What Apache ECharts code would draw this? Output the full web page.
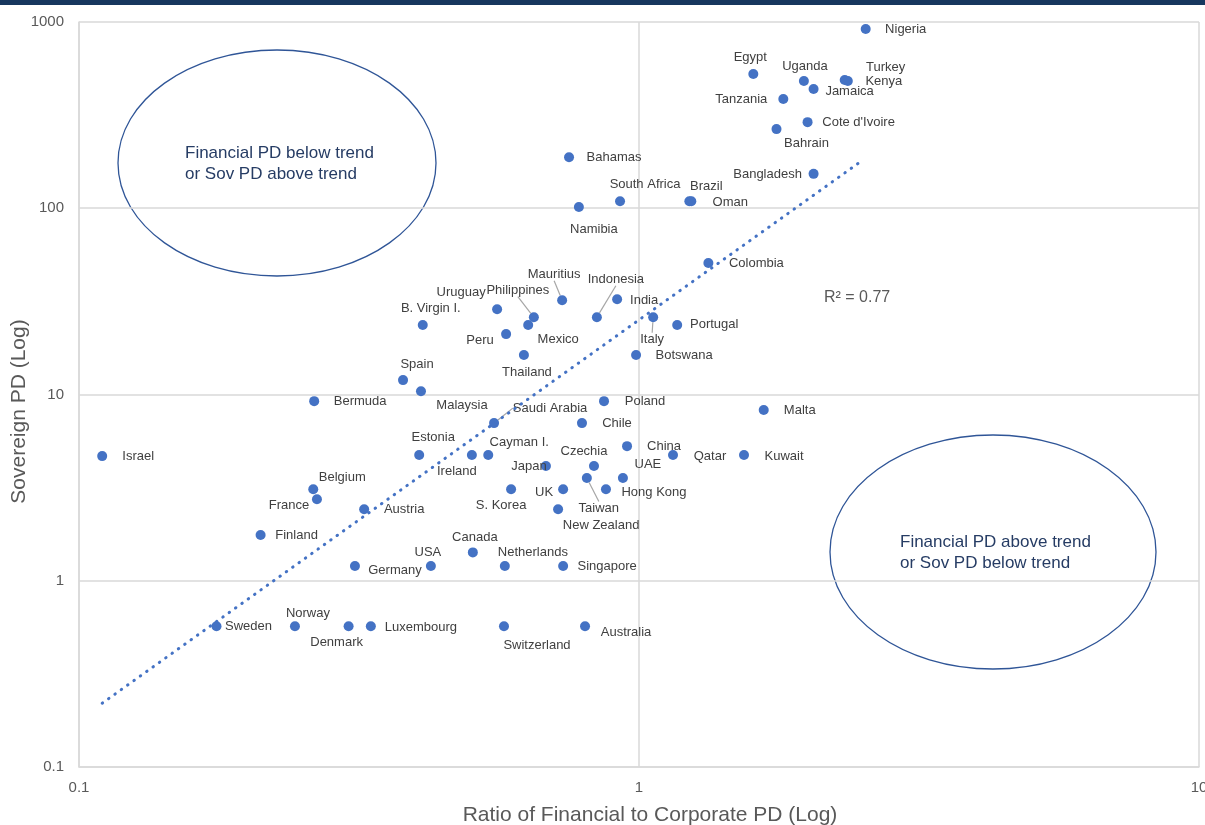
<!DOCTYPE html>
<html>
<head>
<meta charset="utf-8">
<script src="https://cdn.jsdelivr.net/npm/echarts@6/dist/echarts.min.js"></script>
<style>
  html, body { margin: 0; padding: 0; background: #fff; }
  #chart { width: 1205px; height: 825px; }
</style>
</head>
<body>
<div id="chart"></div>
<script>
// countries, ratio of financial to corporate PD (x) and sovereign PD (y)
var countries = ['Nigeria', 'Egypt', 'Uganda', 'Turkey', 'Kenya', 'Jamaica', 'Tanzania', "Cote d'Ivoire", 'Bahrain',
    'Bahamas', 'Bangladesh', 'South Africa', 'Brazil', 'Oman', 'Namibia', 'Colombia', 'Mauritius', 'India',
    'Indonesia', 'Uruguay', 'Philippines', 'B. Virgin I.', 'Mexico', 'Peru', 'Italy', 'Portugal', 'Thailand',
    'Botswana', 'Spain', 'Malaysia', 'Bermuda', 'Poland', 'Malta', 'Saudi Arabia', 'Chile', 'China', 'Israel',
    'Estonia', 'Ireland', 'Cayman I.', 'Qatar', 'Kuwait', 'Japan', 'Czechia', 'UAE', 'Taiwan', 'Belgium',
    'S. Korea', 'UK', 'Hong Kong', 'France', 'Austria', 'New Zealand', 'Finland', 'Canada', 'Germany', 'USA',
    'Netherlands', 'Singapore', 'Sweden', 'Norway', 'Denmark', 'Luxembourg', 'Switzerland', 'Australia'];
var finRatio = [2.54, 1.60, 1.97, 2.33, 2.36, 2.05, 1.81, 2.00, 1.76,
    0.750, 2.05, 0.925, 1.23, 1.24, 0.781, 1.33, 0.729, 0.914,
    0.841, 0.558, 0.649, 0.411, 0.634, 0.579, 1.06, 1.17, 0.623,
    0.988, 0.379, 0.408, 0.263, 0.866, 1.67, 0.551, 0.791, 0.952, 0.110,
    0.405, 0.503, 0.538, 1.15, 1.54, 0.682, 0.831, 0.936, 0.807, 0.262,
    0.591, 0.732, 0.873, 0.266, 0.323, 0.717, 0.211, 0.505, 0.311, 0.425,
    0.576, 0.732, 0.176, 0.243, 0.303, 0.332, 0.574, 0.801];
var sovPD = [917, 526, 482, 488, 482, 437, 386, 290, 266,
    188, 153, 109, 109, 109, 101.5, 50.8, 32.1, 32.5,
    26.0, 28.7, 26.0, 23.6, 23.6, 21.1, 26.0, 23.6, 16.3,
    16.3, 11.95, 10.4, 9.21, 9.21, 8.25, 7.02, 7.02, 5.28, 4.67,
    4.73, 4.73, 4.73, 4.73, 4.73, 4.13, 4.13, 3.56, 3.56, 3.10,
    3.10, 3.10, 3.10, 2.74, 2.42, 2.42, 1.76, 1.42, 1.20, 1.20,
    1.20, 1.20, 0.570, 0.570, 0.570, 0.570, 0.570, 0.570];
// power trendline end points
var trendX = [0.110, 2.51];
var trendY = [0.220, 181.5];
var xTicks = [0.1, 1, 10];
var yTicks = [0.1, 1, 10, 100, 1000];

// label placement (offset of label centre from point, px)
var labelOffset = {
    'Nigeria': [40, 0], 'Egypt': [-3, -17], 'Uganda': [1, -15], 'Turkey': [41, -13], 'Kenya': [36, 0],
    'Jamaica': [36, 2], 'Tanzania': [-42, 0], "Cote d'Ivoire": [51, 0], 'Bahrain': [30, 14],
    'Bahamas': [45, 0], 'Bangladesh': [-46, 1], 'South Africa': [25, -17], 'Brazil': [17, -15],
    'Oman': [39, 1], 'Namibia': [15, 22], 'Colombia': [48, 0], 'Mauritius': [-8, -26], 'India': [27, 1],
    'Indonesia': [19, -38], 'Uruguay': [-36, -17], 'Philippines': [-16, -27], 'B. Virgin I.': [8, -17],
    'Mexico': [30, 14], 'Peru': [-26, 6], 'Italy': [-1, 22], 'Portugal': [37, -1], 'Thailand': [3, 17],
    'Botswana': [48, 0], 'Spain': [14, -16], 'Malaysia': [41, 14], 'Bermuda': [46, 0], 'Poland': [41, 0],
    'Malta': [36, 0], 'Saudi Arabia': [56, -15], 'Chile': [35, 0], 'China': [37, 0], 'Israel': [36, 0],
    'Estonia': [14, -18], 'Ireland': [-15, 16], 'Cayman I.': [31, -13], 'Qatar': [37, 1], 'Kuwait': [40, 1],
    'Japan': [-17, 0], 'Czechia': [-10, -15], 'UAE': [25, -14], 'Taiwan': [12, 30], 'Belgium': [29, -12],
    'S. Korea': [-10, 16], 'UK': [-19, 3], 'Hong Kong': [48, 3], 'France': [-28, 6], 'Austria': [40, 0],
    'New Zealand': [43, 16], 'Finland': [36, 0], 'Canada': [2, -15], 'Germany': [40, 4], 'USA': [-3, -14],
    'Netherlands': [28, -14], 'Singapore': [44, 0], 'Sweden': [32, 0], 'Norway': [13, -13],
    'Denmark': [-12, 16], 'Luxembourg': [50, 1], 'Switzerland': [33, 19], 'Australia': [41, 6]
};
var withLeader = ['Mauritius', 'Indonesia', 'Philippines', 'Italy', 'Saudi Arabia', 'Taiwan'];

var pointData = [];
for (var i = 0; i < countries.length; i++) {
    var item = { name: countries[i], value: [finRatio[i], sovPD[i]] };
    if (withLeader.indexOf(countries[i]) >= 0) {
        item.labelLine = { show: true, lineStyle: { color: '#a6a6a6', width: 1.2 } };
    }
    pointData.push(item);
}
var trendData = [];
for (i = 0; i < trendX.length; i++) {
    trendData.push([trendX[i], trendY[i]]);
}

var font = 'Liberation Sans, Arial, sans-serif';
var gridColor = '#d9d9d9';
var myChart = echarts.init(document.getElementById('chart'));

option = {
    animation: false,
    backgroundColor: '#fff',
    grid: { left: 79, right: 6, top: 22, bottom: 58, containLabel: false, outerBoundsMode: 'none' },
    xAxis: {
        type: 'log', logBase: 10, min: 0.1, max: 10,
        name: 'Ratio of Financial to Corporate PD (Log)',
        nameLocation: 'middle', nameGap: 38, nameMoveOverlap: false,
        nameTextStyle: { fontFamily: font, fontSize: 21, color: '#595959', padding: [0, 0, 0, 22] },
        axisLine: { show: true, lineStyle: { color: gridColor, width: 1.5 } },
        axisTick: { show: false },
        axisLabel: {
            fontFamily: font, fontSize: 15, color: '#595959', margin: 13,
            formatter: function (v) { return xTicks.indexOf(v) >= 0 ? String(v) : ''; }
        },
        splitLine: { show: true, lineStyle: { color: gridColor, width: 1.5 } }
    },
    yAxis: {
        type: 'log', logBase: 10, min: 0.1, max: 1000,
        name: 'Sovereign PD (Log)',
        nameLocation: 'middle', nameGap: 49, nameMoveOverlap: false,
        nameTextStyle: { fontFamily: font, fontSize: 21, color: '#595959', padding: [0, 34, 0, 0] },
        axisLine: { show: true, lineStyle: { color: gridColor, width: 1.5 } },
        axisTick: { show: false },
        axisLabel: {
            fontFamily: font, fontSize: 15, color: '#595959', margin: 15,
            formatter: function (v) { return yTicks.indexOf(v) >= 0 ? String(v) : ''; }
        },
        splitLine: { show: true, lineStyle: { color: gridColor, width: 1.5 } }
    },
    graphic: [
        { type: 'rect', shape: { x: 0, y: 0, width: 1205, height: 5 }, style: { fill: '#17375e' } },
        { type: 'ellipse', shape: { cx: 277, cy: 163, rx: 159, ry: 113 },
          style: { fill: 'none', stroke: '#2f5597', lineWidth: 1.3 } },
        { type: 'text', left: 185, top: 143,
          style: { text: 'Financial PD below trend\nor Sov PD above trend', fill: '#263c64',
                   font: '17px ' + font, lineHeight: 21 } },
        { type: 'ellipse', shape: { cx: 993, cy: 552, rx: 163, ry: 117 },
          style: { fill: 'none', stroke: '#2f5597', lineWidth: 1.3 } },
        { type: 'text', left: 900, top: 532,
          style: { text: 'Financial PD above trend\nor Sov PD below trend', fill: '#263c64',
                   font: '17px ' + font, lineHeight: 21 } },
        { type: 'text', left: 824, top: 290,
          style: { text: 'R\u00b2 = 0.77', fill: '#595959', font: '16px ' + font } }
    ],
    series: [
        {
            name: 'Countries',
            type: 'scatter',
            symbol: 'circle',
            symbolSize: 10,
            itemStyle: { color: '#4472c4', opacity: 1 },
            data: pointData,
            label: {
                show: true,
                position: 'inside',
                align: 'center',
                verticalAlign: 'middle',
                formatter: '{b}',
                fontFamily: font,
                fontSize: 13,
                color: '#404040'
            },
            labelLayout: function (params) {
                var o = labelOffset[countries[params.dataIndex]] || [0, 0];
                return { dx: o[0], dy: o[1], hideOverlap: false };
            },
            z: 3
        },
        {
            name: 'Trend',
            type: 'line',
            data: trendData,
            showSymbol: false,
            symbol: 'none',
            lineStyle: { color: '#4472c4', width: 3, type: [0.5, 7.3], cap: 'round' },
            silent: true,
            z: 4
        }
    ]
};
myChart.setOption(option);
</script>
</body>
</html>
